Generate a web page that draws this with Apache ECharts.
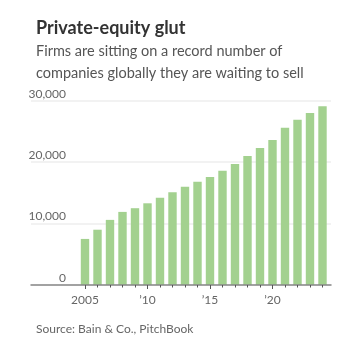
<!DOCTYPE html>
<html>
<head>
<meta charset="utf-8">
<script src="https://cdn.jsdelivr.net/npm/echarts@6/dist/echarts.min.js"></script>
<style>
  html, body { margin: 0; padding: 0; background: #fff; }
  #chart { width: 338px; height: 337px; }
</style>
</head>
<body>
<div id="chart"></div>
<script>
// Portfolio companies held by private-equity firms, globally
const years = [2005, 2006, 2007, 2008, 2009, 2010, 2011, 2012, 2013, 2014,
               2015, 2016, 2017, 2018, 2019, 2020, 2021, 2022, 2023, 2024];
const companies = [7500, 9000, 10600, 11900, 12500, 13300, 14200, 15100, 16000, 16800,
                   17600, 18600, 19700, 21000, 22300, 23600, 25600, 26900, 28000, 29100];
const labeledYears = [2005, 2010, 2015, 2020];
const yTicks = [0, 10000, 20000, 30000];

const FONT = 'Lato';
const chart = echarts.init(document.getElementById('chart'), null, { renderer: 'canvas' });

const fmtYear = v => (v === labeledYears[0] ? String(v) : '\u2019' + String(v).slice(2));

chart.setOption({
  animation: false,
  title: [
    {
      text: 'Private-equity glut',
      left: 31, top: 14,
      textStyle: { fontFamily: FONT, fontSize: 18, fontWeight: 'bold', color: '#333' }
    },
    {
      text: 'Firms are sitting on a record number of\ncompanies globally they are waiting to sell',
      left: 31, top: 36,
      textStyle: { fontFamily: FONT, fontSize: 14.5, fontWeight: 'normal', color: '#555', lineHeight: 21.6 }
    },
    {
      text: 'Source: Bain & Co., PitchBook',
      left: 31, top: 318,
      textStyle: { fontFamily: FONT, fontSize: 12, fontWeight: 'normal', color: '#666' }
    }
  ],
  grid: { left: 31, right: 7, top: 100.7, bottom: 52, containLabel: false },
  xAxis: [
    {
      type: 'value',
      min: 2000.68, max: 2024.68,
      axisLine: { show: true, lineStyle: { color: '#888', width: 1.5 } },
      axisTick: { show: true, customValues: years, length: 2.5, lineStyle: { color: '#555', width: 1 } },
      axisLabel: { show: false },
      splitLine: { show: false },
      z: 5
    },
    {
      type: 'value',
      position: 'bottom',
      min: 2000.68, max: 2024.68,
      axisLine: { show: false },
      axisTick: { show: true, customValues: labeledYears, length: 4, lineStyle: { color: '#555', width: 1 } },
      axisLabel: {
        show: true, customValues: labeledYears, formatter: fmtYear,
        fontFamily: FONT, fontSize: 12, color: '#666', margin: 9
      },
      splitLine: { show: false }
    }
  ],
  yAxis: {
    type: 'value',
    min: 0, max: 30000, interval: 10000,
    axisLine: { show: false },
    axisTick: { show: false },
    axisLabel: {
      customValues: yTicks,
      formatter: v => v.toLocaleString('en-US'),
      fontFamily: FONT, fontSize: 12, color: '#666',
      align: 'right', verticalAlign: 'bottom', margin: -35,
      padding: [0, 0, 1, 0]
    },
    splitLine: { show: true, lineStyle: { color: '#eeeeee', width: 1.5 } }
  },
  series: [{
    type: 'bar',
    xAxisIndex: 0,
    barWidth: 8.4,
    itemStyle: { color: '#a3d18f' },
    data: years.map((y, i) => [y, companies[i]])
  }]
});
</script>
</body>
</html>
